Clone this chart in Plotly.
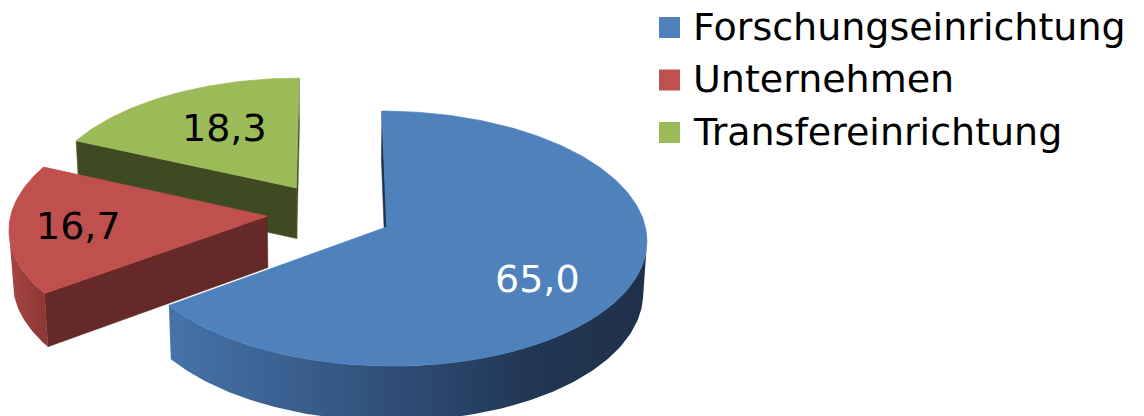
import numpy as np
import plotly.graph_objects as go

# ---------------- data ----------------
categories = ["Forschungseinrichtung", "Unternehmen", "Transfereinrichtung"]
values = [65.0, 16.7, 18.3]
value_labels = ["65,0", "16,7", "18,3"]

# ---------------- style ----------------
TOP_COLORS = ["#4F81BD", "#C0504D", "#9BBB59"]
RADIAL_COLORS = ["#1F3350", "#652927", "#3F4A23"]
SIDE_SCALES = [
    [[0, "#4673AA"], [0.45, "#30507A"], [0.75, "#223755"], [1, "#1F3049"]],
    [[0, "#A64643"], [1, "#8A3634"]],
    [[0, "#5E7135"], [1, "#4A5A2A"]],
]
LABEL_COLORS = ["white", "black", "black"]
LABEL_R = [0.68, 0.733, 0.606]       # label distance from slice apex (radius units)
LABEL_DA = [8.5, 0.0, 2.5]           # label angle tweak (degrees)
FONT = "DejaVu Sans"
FONT_SIZE = 38

W, H = 1144, 416
CX, CY = 330, 213          # screen position of pie centre
RX = 256                   # horizontal radius in px
SIN_A = 0.484              # view elevation
COS_A = float(np.sqrt(1 - SIN_A ** 2))
L = COS_A / 0.09           # camera distance (perspective strength)
THICK = 0.232              # pie thickness (radius units)
EXPLODE = 0.246            # explosion distance (radius units)
CAM = np.array([0.0, -L * COS_A, L * SIN_A])


def project(X, Y, Z):
    X = np.asarray(X, float); Y = np.asarray(Y, float); Z = np.asarray(Z, float)
    depth = L + Y * COS_A - Z * SIN_A
    sx = CX + RX * L * X / depth
    sy = CY - RX * L * (Y * SIN_A + Z * COS_A) / depth
    return sx, sy


def visible(point, normal):
    return float(np.dot(CAM - np.asarray(point), np.asarray(normal))) > 0


fig = go.Figure()

total = sum(values)
bounds = np.concatenate([[0], np.cumsum(values)]) / total * 2 * np.pi
slices = []
for i in range(len(values)):
    t1, t2 = bounds[i], bounds[i + 1]
    m = (t1 + t2) / 2
    ox, oy = EXPLODE * np.sin(m), EXPLODE * np.cos(m)
    slices.append((i, t1, t2, m, ox, oy))

# draw back to front
for i, t1, t2, m, ox, oy in sorted(slices, key=lambda s: -s[5]):
    n = max(8, int((t2 - t1) / (2 * np.pi) * 360))
    th = np.linspace(t1, t2, n)
    ax, ay = ox + np.sin(th), oy + np.cos(th)

    # radial faces
    for t, nrm in ((t1, (-np.cos(t1), np.sin(t1), 0)), (t2, (np.cos(t2), -np.sin(t2), 0))):
        if visible((ox, oy, 0), nrm):
            px = [ox, ox + np.sin(t), ox + np.sin(t), ox]
            py = [oy, oy + np.cos(t), oy + np.cos(t), oy]
            pz = [0, 0, -THICK, -THICK]
            sx, sy = project(px, py, pz)
            fig.add_trace(go.Scatter(x=list(sx) + [sx[0]], y=list(sy) + [sy[0]], mode="lines",
                                     fill="toself", fillcolor=RADIAL_COLORS[i],
                                     line=dict(color=RADIAL_COLORS[i], width=0.5),
                                     hoverinfo="skip", showlegend=False))

    # outer curved side, visible runs only
    vis = [visible((ax[k], ay[k], 0), (np.sin(th[k]), np.cos(th[k]), 0)) for k in range(n)]
    k = 0
    while k < n:
        if vis[k]:
            j = k
            while j + 1 < n and vis[j + 1]:
                j += 1
            if j > k:
                tx, ty = project(ax[k:j + 1], ay[k:j + 1], np.zeros(j - k + 1))
                bx, by = project(ax[k:j + 1], ay[k:j + 1], np.full(j - k + 1, -THICK))
                xs = list(tx) + list(bx[::-1]) + [tx[0]]
                ys = list(ty) + list(by[::-1]) + [ty[0]]
                fig.add_trace(go.Scatter(x=xs, y=ys, mode="lines", fill="toself",
                                         fillgradient=dict(type="horizontal", colorscale=SIDE_SCALES[i]),
                                         line=dict(width=0), hoverinfo="skip", showlegend=False))
            k = j + 1
        else:
            k += 1

    # top face
    sx, sy = project(np.concatenate([[ox], ax, [ox]]), np.concatenate([[oy], ay, [oy]]),
                     np.zeros(n + 2))
    fig.add_trace(go.Scatter(x=sx, y=sy, mode="lines", fill="toself", fillcolor=TOP_COLORS[i],
                             line=dict(color=TOP_COLORS[i], width=0.8),
                             name=categories[i], hoverinfo="skip", showlegend=False))

# value labels
annotations = []
for i, t1, t2, m, ox, oy in slices:
    a = m + np.radians(LABEL_DA[i])
    lx, ly = project(ox + LABEL_R[i] * np.sin(a), oy + LABEL_R[i] * np.cos(a), 0.0)
    annotations.append(dict(x=float(lx), y=float(ly), xref="x", yref="y", text=value_labels[i],
                            showarrow=False, xanchor="center", yanchor="middle",
                            font=dict(family=FONT, size=FONT_SIZE, color=LABEL_COLORS[i])))

# legend (manual)
LEG_X0, LEG_Y0, LEG_DY, LEG_SQ = 659, 17, 52.5, 21
shapes = []
for i, cat in enumerate(categories):
    y0 = LEG_Y0 + i * LEG_DY
    shapes.append(dict(type="rect", xref="x", yref="y", x0=LEG_X0, x1=LEG_X0 + LEG_SQ,
                       y0=y0, y1=y0 + LEG_SQ, fillcolor=TOP_COLORS[i], line=dict(width=0)))
    annotations.append(dict(x=LEG_X0 + 32, y=y0 + LEG_SQ / 2 - 1, xref="x", yref="y", text=cat,
                            showarrow=False, xanchor="left", yanchor="middle",
                            font=dict(family=FONT, size=FONT_SIZE, color="black")))

fig.update_layout(
    width=W, height=H, margin=dict(l=0, r=0, t=0, b=0),
    paper_bgcolor="white", plot_bgcolor="white",
    xaxis=dict(range=[0, W], visible=False, fixedrange=True),
    yaxis=dict(range=[H, 0], visible=False, fixedrange=True),
    annotations=annotations, shapes=shapes, showlegend=False,
)

fig.write_html("out.html", config={"displayModeBar": False},
               post_script="document.body.style.margin='0';document.body.style.overflow='hidden';")
